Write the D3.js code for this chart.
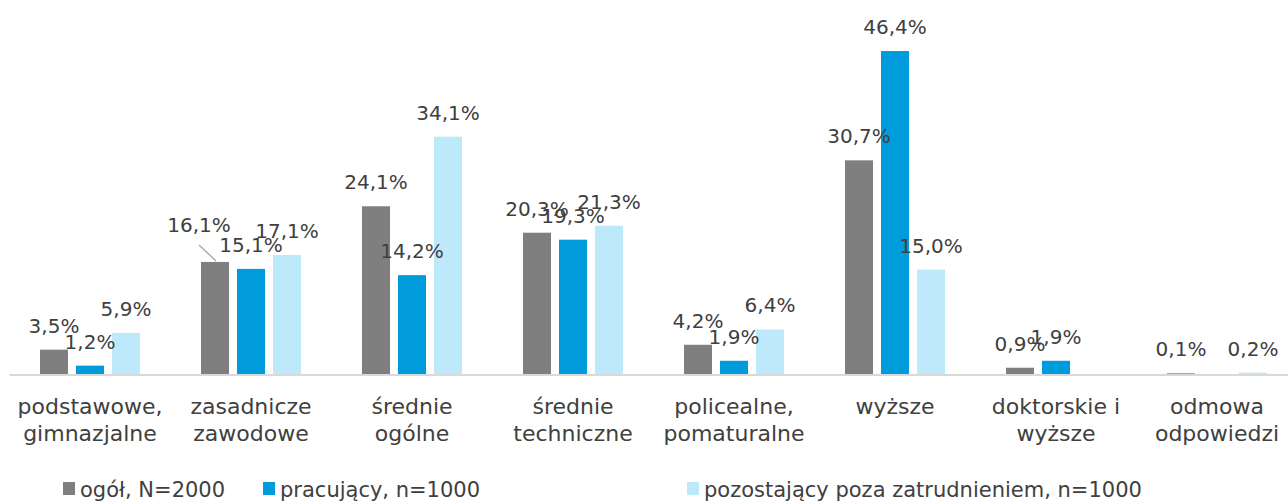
<!DOCTYPE html>
<html>
<head>
<meta charset="utf-8">
<script src="https://cdn.jsdelivr.net/npm/d3@7"></script>
<style>
  html, body { margin: 0; padding: 0; background: #fff; }
  svg { display: block; overflow: hidden; }
</style>
</head>
<body>
<svg id="chart"></svg>
<script>
const categories = [
  "podstawowe,|gimnazjalne",
  "zasadnicze|zawodowe",
  "średnie|ogólne",
  "średnie|techniczne",
  "policealne,|pomaturalne",
  "wyższe",
  "doktorskie i|wyższe",
  "odmowa|odpowiedzi"
];
const seriesNames = [
  "ogół, N=2000",
  "pracujący, n=1000",
  "pozostający poza zatrudnieniem, n=1000"
];
const ogol = [3.5, 16.1, 24.1, 20.3, 4.2, 30.7, 0.9, 0.1];
const pracujacy = [1.2, 15.1, 14.2, 19.3, 1.9, 46.4, 1.9, null];
const pozostajacy = [5.9, 17.1, 34.1, 21.3, 6.4, 15.0, null, 0.2];

const colors = ["#7f7f7f", "#009bdb", "#bde9fa"];
const W = 1288, H = 502;
const baseY = 374;
const font = "'DejaVu Sans', sans-serif";
const textColor = "#404040";

const svg = d3.select("#chart").attr("width", W).attr("height", H);

const seriesValues = [ogol, pracujacy, pozostajacy];
const rows = [];
categories.forEach((c, i) => {
  seriesValues.forEach((vals, s) => {
    if (vals[i] !== null) rows.push({ cat: c, s, value: vals[i] });
  });
});

const x0 = d3.scaleBand().domain(categories).range([9.5, 1297.5]);
const bw = x0.bandwidth();
const x1 = d3
  .scaleBand()
  .domain(d3.range(3))
  .range([bw / 2 - 50, bw / 2 + 50])
  .paddingInner(0.2222);
const y = d3.scaleLinear().domain([0, 50]).range([baseY, baseY - 348]);

const g = svg.append("g");

g.selectAll(".bar")
  .data(rows)
  .enter()
  .append("rect")
  .attr("class", "bar")
  .attr("x", (d) => x0(d.cat) + x1(d.s))
  .attr("y", (d) => y(d.value))
  .attr("width", x1.bandwidth())
  .attr("height", (d) => y(0) - y(d.value))
  .attr("fill", (d) => colors[d.s]);

// baseline
g.append("line")
  .attr("x1", x0.range()[0])
  .attr("x2", W)
  .attr("y1", y(0) + 1)
  .attr("y2", y(0) + 1)
  .attr("stroke", "#d9d9d9")
  .attr("stroke-width", 2);

// one label was dragged off its bar in the original, with a leader line
const moved = { "zasadnicze|zawodowe-0": { dx: -16, dy: -13 } };

const fmt = (v) => v.toFixed(1).replace(".", ",") + "%";

rows.forEach((d) => {
  const cx = x0(d.cat) + x1(d.s) + x1.bandwidth() / 2;
  const top = y(d.value);
  const m = moved[d.cat + "-" + d.s] || { dx: 0, dy: 0 };
  if (m.dx || m.dy) {
    g.append("line")
      .attr("x1", cx + m.dx)
      .attr("y1", top + m.dy - 4)
      .attr("x2", cx + 1)
      .attr("y2", top - 1)
      .attr("stroke", "#a6a6a6")
      .attr("stroke-width", 1.3);
  }
  g.append("text")
    .attr("x", cx + m.dx)
    .attr("y", top - 17 + m.dy)
    .attr("text-anchor", "middle")
    .style("font-family", font)
    .style("font-size", "20px")
    .style("fill", textColor)
    .text(fmt(d.value));
});

// category labels
const cl = g
  .selectAll(".cat")
  .data(categories)
  .enter()
  .append("text")
  .attr("class", "cat")
  .attr("text-anchor", "middle")
  .attr("x", (d) => x0(d) + bw / 2)
  .attr("y", 414)
  .style("font-family", font)
  .style("font-size", "22px")
  .style("fill", textColor);
cl.each(function (d) {
  const t = d3.select(this);
  d.split("|").forEach((line, k) => {
    t.append("tspan")
      .attr("x", x0(d) + bw / 2)
      .attr("dy", k === 0 ? 0 : 27)
      .text(line);
  });
});

// legend
const legendX = [63, 263, 687];
const leg = svg
  .selectAll(".leg")
  .data(seriesNames)
  .enter()
  .append("g")
  .attr("class", "leg")
  .attr("transform", (d, i) => `translate(${legendX[i]},482)`);
leg.append("rect")
  .attr("width", 12)
  .attr("height", 13)
  .attr("fill", (d, i) => colors[i]);
leg.append("text")
  .attr("x", 17)
  .attr("y", 15)
  .style("font-family", font)
  .style("font-size", "21px")
  .style("fill", textColor)
  .text((d) => d);
</script>
</body>
</html>
